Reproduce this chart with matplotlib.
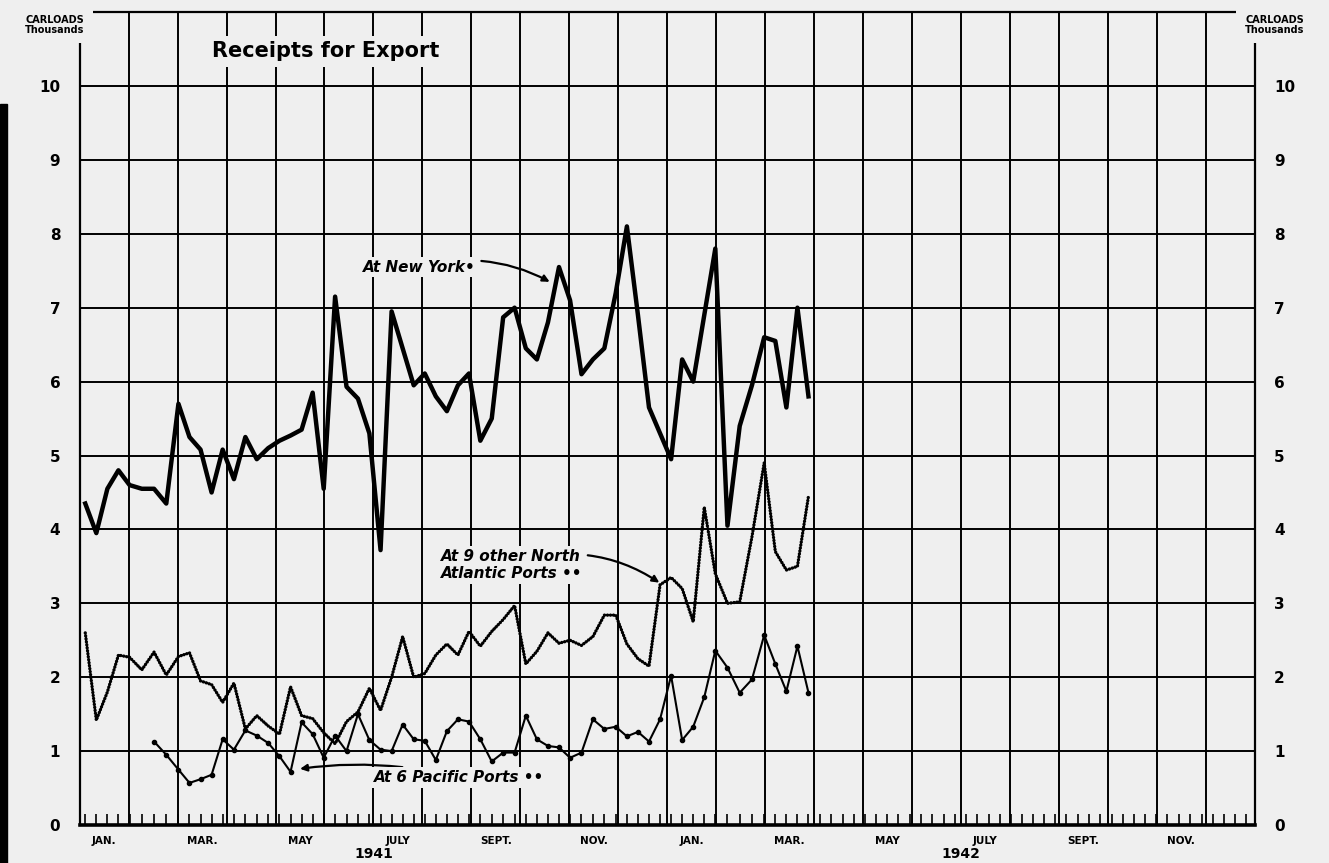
import calendar
import datetime as dt
import matplotlib.pyplot as plt
from matplotlib.patches import Rectangle

# weekly receipts for export, carloads (thousands), first week ends Jan 4 1941
new_york = [4.35, 3.95, 4.55, 4.8, 4.6, 4.55, 4.55, 4.35, 5.7, 5.25,
            5.08, 4.5, 5.08, 4.68, 5.25, 4.95, 5.1, 5.2, 5.27, 5.35,
            5.85, 4.55, 7.15, 5.93, 5.77, 5.3, 3.72, 6.95, 6.45, 5.95,
            6.11, 5.8, 5.6, 5.95, 6.11, 5.2, 5.5, 6.87, 7.0, 6.45,
            6.3, 6.8, 7.55, 7.1, 6.1, 6.3, 6.45, 7.2, 8.1, 6.9,
            5.65, 5.3, 4.95, 6.3, 6.0, 6.9, 7.8, 4.05, 5.4, 5.95,
            6.6, 6.55, 5.65, 7.0, 5.8]

north_atlantic = [2.6, 1.42, 1.8, 2.3, 2.27, 2.1, 2.34, 2.03, 2.28, 2.33,
                  1.95, 1.9, 1.66, 1.92, 1.3, 1.48, 1.34, 1.23, 1.87, 1.48,
                  1.44, 1.25, 1.1, 1.4, 1.53, 1.85, 1.55, 2.0, 2.55, 2.0,
                  2.05, 2.3, 2.45, 2.3, 2.62, 2.42, 2.62, 2.78, 2.97, 2.18,
                  2.35, 2.6, 2.46, 2.5, 2.43, 2.55, 2.84, 2.84, 2.45, 2.25,
                  2.15, 3.25, 3.35, 3.2, 2.75, 4.3, 3.4, 3.0, 3.02, 3.9,
                  4.9, 3.7, 3.45, 3.5, 4.45]

# pacific series starts with the 7th week
pacific_start = 6
pacific = [1.13, 0.95, 0.75, 0.57, 0.62, 0.68, 1.16, 1.02, 1.28, 1.21,
           1.11, 0.93, 0.72, 1.39, 1.23, 0.91, 1.21, 1.0, 1.5, 1.15,
           1.02, 1.0, 1.36, 1.16, 1.14, 0.88, 1.27, 1.43, 1.4, 1.16,
           0.86, 0.98, 0.98, 1.48, 1.16, 1.07, 1.05, 0.91, 0.98, 1.43,
           1.3, 1.33, 1.2, 1.26, 1.13, 1.43, 2.02, 1.15, 1.33, 1.73,
           2.36, 2.13, 1.79, 1.97, 2.57, 2.18, 1.81, 2.42, 1.79]

month_labels = ["JAN.", "MAR.", "MAY", "JULY", "SEPT.", "NOV."]
year_labels = ["1941", "1942"]

BG = "#efefef"


def month_pos(d):
    # position on the axis in months from Jan 1 1941
    days = calendar.monthrange(d.year, d.month)[1]
    return (d.year - 1941) * 12 + d.month - 1 + (d.day - 0.5) / days


first_week = dt.date(1941, 1, 4)
weeks = [month_pos(first_week + dt.timedelta(days=7 * i)) for i in range(len(new_york))]
week_ticks = [month_pos(first_week + dt.timedelta(days=7 * i)) for i in range(104)]

fig = plt.figure(figsize=(13.29, 8.63), dpi=100, facecolor=BG)
ax = fig.add_axes([0.060, 0.044, 0.884, 0.942])
ax.set_facecolor(BG)
ax.set_xlim(0, 24)
ax.set_ylim(0, 11)

ax.set_xticks(range(25))
ax.set_xticklabels([])
ax.set_xticks(week_ticks, minor=True)
ax.set_yticks(range(11))
ax.tick_params(axis="x", which="major", length=0)
ax.tick_params(axis="x", which="minor", direction="in", length=8, width=1.2)
ax.tick_params(axis="y", length=0, labelright=True, labelsize=11, pad=14)
for lab in ax.get_yticklabels():
    lab.set_fontweight("bold")
ax.grid(True, which="major", color="black", lw=1.4)
for s in ax.spines.values():
    s.set_linewidth(1.6)
ax.spines["bottom"].set_linewidth(2.6)

# the three series
ax.plot(weeks, new_york, color="black", lw=3.2, solid_joinstyle="round", zorder=4)
ax.plot(weeks, north_atlantic, color="black", lw=2.4,
        linestyle=(0, (0.05, 0.85)), dash_capstyle="round", zorder=4)
ax.plot(weeks[pacific_start:], pacific, color="black", lw=1.5,
        marker="o", ms=3, zorder=4)

# month and year labels
for k, m in enumerate(month_labels):
    for yr in range(2):
        ax.text(yr * 12 + 2 * k + 0.5, -0.21, m, ha="center", va="center",
                fontsize=7.5, fontweight="bold", clip_on=False)
for k, y in enumerate(year_labels):
    ax.text(6 + 12 * k, -0.39, y, ha="center", va="center",
            fontsize=10, fontweight="bold", clip_on=False)

ax.text(2.71, 10.47, "Receipts for Export", ha="left", va="center",
        fontsize=15, fontweight="bold",
        bbox=dict(fc=BG, ec="none", pad=4), zorder=5)

for fx in (0.041, 0.959):
    fig.text(fx, 0.971, "CARLOADS\nThousands", ha="center", va="center",
             fontsize=7, fontweight="bold", linespacing=1.0,
             bbox=dict(fc=BG, ec="none", pad=6), zorder=5)

txt = dict(fontsize=11, fontweight="bold", fontstyle="italic", zorder=6)
arrow = dict(arrowstyle="-|>", color="black", lw=1.6, mutation_scale=10,
             shrinkA=2, shrinkB=0)

ax.annotate("At New York\u2022", xy=(9.6, 7.35), xytext=(6.94, 7.55),
            ha="center", va="center", bbox=dict(fc=BG, ec="none", pad=2),
            arrowprops=dict(connectionstyle="arc3,rad=-0.2", **arrow), **txt)
ax.annotate("At 9 other North\nAtlantic Ports \u2022\u2022", xy=(11.84, 3.28),
            xytext=(8.82, 3.52), ha="center", va="center", multialignment="left",
            bbox=dict(fc=BG, ec="none", pad=2),
            arrowprops=dict(connectionstyle="arc3,rad=-0.25", **arrow), **txt)
ax.annotate("At 6 Pacific Ports \u2022\u2022", xy=(4.5, 0.76), xytext=(7.76, 0.64),
            ha="center", va="center", bbox=dict(fc=BG, ec="none", pad=2),
            arrowprops=dict(connectionstyle="arc3,rad=0.1", **arrow), **txt)

# dark scan edge on the left
fig.patches.append(Rectangle((0, 0), 0.005, 0.88, transform=fig.transFigure,
                             color="black", zorder=0))

fig.savefig("out.png", dpi=100, facecolor=BG)
